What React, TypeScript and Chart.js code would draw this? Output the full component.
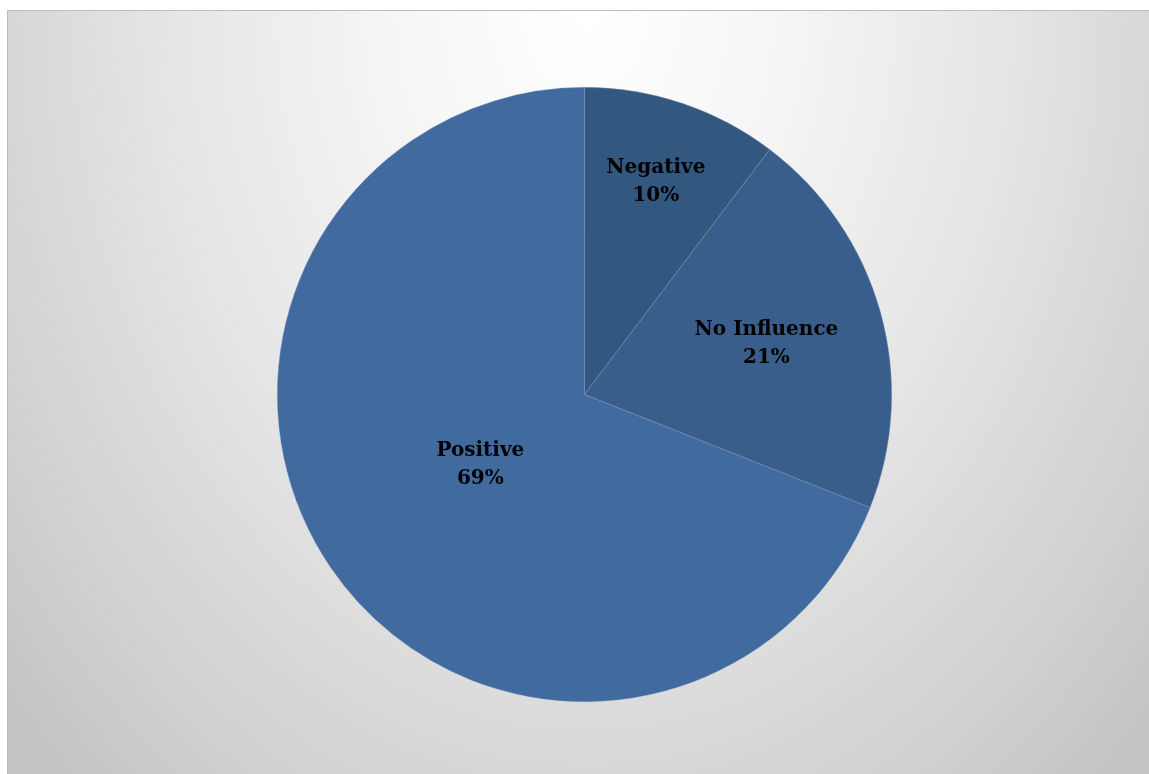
import React, { useEffect, useRef } from "react";
import { Chart, registerables } from "chart.js";

Chart.register(...registerables);

const categories = ["Negative", "No Influence", "Positive"];
const values = [10.3, 20.7, 69.0];
const valueLabels = ["10%", "21%", "69%"];
const sliceColors = ["#33587f", "#3a5e8c", "#416b9e"];
const labelRadiusFractions = [0.73, 0.615, 0.41];

const labelPlugin = {
  id: "sliceLabels",
  afterDatasetsDraw(chart: any) {
    const ctx = chart.ctx;
    const meta = chart.getDatasetMeta(0);
    ctx.save();
    ctx.fillStyle = "#000000";
    ctx.font = "bold 20px 'DejaVu Serif'";
    ctx.textAlign = "center";
    ctx.textBaseline = "middle";
    meta.data.forEach((arc: any, i: number) => {
      const { x, y, startAngle, endAngle, outerRadius } = arc.getProps(
        ["x", "y", "startAngle", "endAngle", "outerRadius"],
        true
      );
      const mid = (startAngle + endAngle) / 2;
      const r = outerRadius * labelRadiusFractions[i];
      const cx = x + Math.cos(mid) * r;
      const cy = y + Math.sin(mid) * r;
      ctx.fillText(categories[i], cx, cy - 14);
      ctx.fillText(valueLabels[i], cx, cy + 14);
    });
    ctx.restore();
  },
};

export default function App() {
  const ref = useRef<HTMLCanvasElement | null>(null);
  useEffect(() => {
    if (!ref.current) return;
    const chart = new Chart(ref.current, {
      type: "pie",
      data: {
        labels: categories,
        datasets: [
          {
            data: values,
            backgroundColor: sliceColors,
            borderColor: "rgba(120,150,190,0.6)",
            borderWidth: 0.6,
          },
        ],
      },
      options: {
        animation: false,
        responsive: false,
        layout: { padding: { top: 76, bottom: 72, left: 12, right: 0 } },
        plugins: {
          legend: { display: false },
          tooltip: { enabled: false },
        },
      },
      plugins: [labelPlugin],
    });
    return () => chart.destroy();
  }, []);
  return (
    <div
      style={{
        position: "absolute",
        left: 7,
        top: 10,
        width: 1141,
        height: 763,
        borderTop: "1px solid #bdbdbd",
        borderLeft: "1px solid #bdbdbd",
        background:
          "radial-gradient(600px 800px at 577px 0px, #ffffff 0%, #f8f8f8 25%, #e8e8e8 64%, #d5d5d5 100%, #c4c4c4 130%)",
        overflow: "hidden",
      }}
    >
      <canvas ref={ref} width={1141} height={763} style={{ display: "block" }} />
    </div>
  );
}
